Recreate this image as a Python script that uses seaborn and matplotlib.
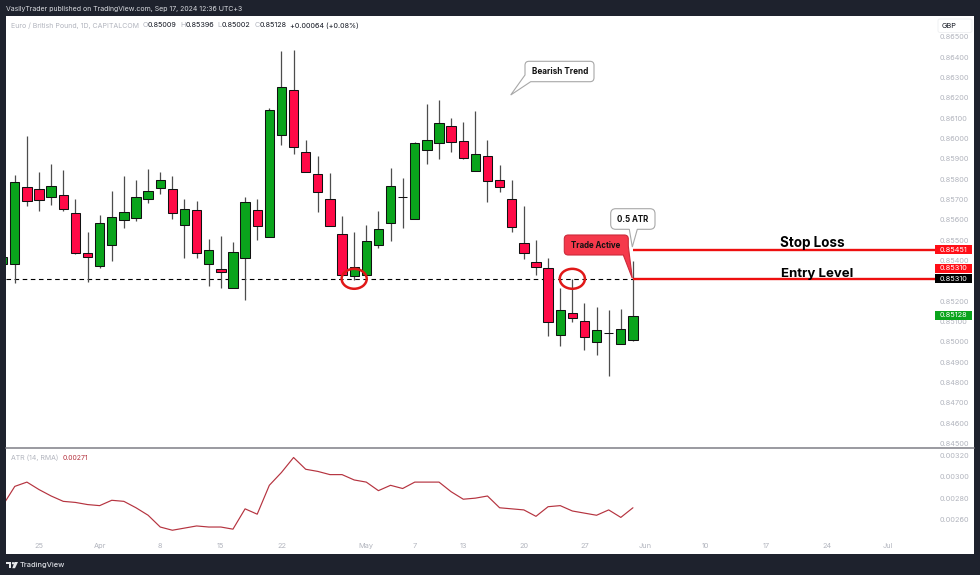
import numpy as np
import pandas as pd
import matplotlib
matplotlib.use("Agg")
import matplotlib.pyplot as plt
from matplotlib.path import Path
from matplotlib.patches import PathPatch, Ellipse, Rectangle, FancyBboxPatch
import seaborn as sns

# ---------- data ----------
day_index = list(range(-1, 52))
opens = [.85385, .85385, .85759, .85749, .85711, .85721, .85631, .85439, .85373, .85477, .85601, .85611,
         .85703, .85755, .85751, .85575, .85647, .85383, .85357, .85267, .85410, .85647, .85514, .86019,
         .86236, .85933, .85824, .85700, .85528, .85323, .85331, .85478, .85583, .85714, .85605, .85941,
         .85978, .86059, .85987, .85842, .85913, .85795, .85700, .85485, .85393, .85365, .85036, .85144,
         .85103, .85000, .85045, .84992, .85009]
closes = [.85418, .85787, .85692, .85695, .85765, .85651, .85439, .85418, .85582, .85615, .85636, .85710,
          .85741, .85798, .85631, .85655, .85436, .85454, .85344, .85444, .85688, .85570, .86141, .86255,
          .85957, .85833, .85737, .85570, .85331, .85370, .85495, .85557, .85765, .85712, .85975, .85990,
          .86078, .85980, .85903, .85921, .85791, .85760, .85564, .85436, .85369, .85100, .85158, .85116,
          .85026, .85060, .85043, .85064, .85128]
highs = [.85425, .85819, .86014, .85837, .85875, .85844, .85701, .85539, .85624, .85742, .85814, .85798,
         .85852, .85836, .85814, .85700, .85690, .85508, .85519, .85490, .85713, .85701, .86147, .86431,
         .86436, .85992, .85913, .85829, .85618, .85539, .85573, .85641, .85854, .85805, .85982, .86170,
         .86191, .86098, .86080, .86134, .85991, .85867, .85795, .85670, .85501, .85414, .85264, .85311,
         .85192, .85169, .85159, .85164, .85396]
lows = [.85375, .85290, .85669, .85644, .85672, .85644, .85433, .85295, .85362, .85398, .85562, .85595,
        .85682, .85729, .85603, .85414, .85411, .85275, .85264, .85267, .85205, .85503, .85514, .85970,
        .85923, .85833, .85637, .85570, .85331, .85303, .85331, .85459, .85498, .85562, .85605, .85875,
        .85901, .85932, .85898, .85842, .85687, .85737, .85539, .85406, .85328, .85029, .84980, .85100,
        .84959, .84936, .84831, .84992, .85002]
atr = [.00273, .00291, .00295, .00288, .00282, .00277, .00276, .00274, .00273, .00278, .00277, .00271,
       .00264, .00253, .00250, .00252, .00254, .00253, .00253, .00251, .00270, .00265, .00292, .00304,
       .00318, .00307, .00305, .00302, .00302, .00297, .00295, .00287, .00292, .00289, .00295, .00295,
       .00295, .00286, .00279, .00280, .00282, .00271, .00270, .00269, .00263, .00272, .00273, .00268,
       .00266, .00264, .00269, .00262, .00271]
price_ticks = [.845, .846, .847, .848, .849, .850, .851, .852, .854, .855, .856, .857,
               .858, .859, .860, .861, .862, .863, .864, .865]
atr_ticks = [.0026, .0028, .0030, .0032]
date_pos = [2, 7, 12, 17, 22, 29, 33, 37, 42, 47, 52, 57, 62, 67, 72]
date_labels = ["25", "Apr", "8", "15", "22", "May", "7", "13", "20", "27", "Jun", "10", "17", "24", "Jul"]
entry_level = 0.85310
stop_level = 0.85451
last_close = 0.85128
entry_touch_days = [28, 46]

# ---------- style ----------
sns.set_theme(style="white")
FONT = ["Inter", "DejaVu Sans"]
plt.rcParams["font.family"] = FONT
BG = "#1e222d"
GREEN, RED = "#0aa41c", "#ff0a47"
GREY = "#b2b5be"
W, H = 980, 575

fig = plt.figure(figsize=(W / 100, H / 100), dpi=100, facecolor=BG)

def panel(top, bottom):
    return fig.add_axes([6 / W, 1 - bottom / H, 968 / W, (bottom - top) / H], facecolor="white")

ax = panel(15.5, 448.3)
ax2 = panel(448.3, 554.3)
xlim = (-0.726, 79.14)

# ---------- candles ----------
df = pd.DataFrame(dict(i=day_index, o=opens, c=closes, h=highs, l=lows, atr=atr))
colors = [GREEN if c >= o else RED for o, c in zip(df.o, df.c)]
ax.vlines(df.i, df.l, df.h, color="#4d4d4d", lw=0.9, zorder=2)
ax.bar(df.i, (df.c - df.o).abs().clip(lower=0.00002), bottom=df[["o", "c"]].min(axis=1), width=0.77,
       color=colors, edgecolor="#111111", linewidth=0.75, zorder=3)
ax.hlines(entry_level, xlim[0], 51, color="black", lw=0.8, linestyles=(0, (4.1, 3.2)), zorder=1)
ax.hlines([stop_level, entry_level], 51, 76.7, color="#ee0f0f", lw=1.7, zorder=4)
for d in entry_touch_days:
    ax.add_patch(Ellipse((d, entry_level), 2.07, 0.00098, fill=False, ec="#e01818", lw=1.8, zorder=5))
ax.text(65.8, stop_level - 0.00000, "Stop Loss", fontsize=9.7, fontweight="bold", color="black",
        ha="center", va="bottom", zorder=6, fontfamily=FONT)
ax.text(66.2, entry_level - 0.00004, "Entry Level", fontsize=9.5, fontweight="bold", color="black",
        ha="center", va="bottom", zorder=6, fontfamily=FONT)

ax.set_xlim(*xlim)
ax.set_ylim(0.84477, 0.86604)
ax.set_yticks(price_ticks)
ax.set_yticklabels([f"{t:.5f}" for t in price_ticks])
ax.set_xticks([])

# ---------- ATR ----------
sns.lineplot(data=df, x="i", y="atr", ax=ax2, color="#b5333f", lw=0.85, errorbar=None)
ax2.set_xlim(*xlim)
ax2.set_ylim(0.002275, 0.003266)
ax2.set_yticks(atr_ticks)
ax2.set_yticklabels([f"{t:.5f}" for t in atr_ticks])
ax2.set_xticks(date_pos)
ax2.set_xticklabels(date_labels)
ax2.set_xlabel("")
ax2.set_ylabel("")

for a in (ax, ax2):
    a.yaxis.tick_right()
    a.tick_params(axis="y", length=0, pad=-24.6, labelsize=5.3, labelcolor=GREY)
    a.tick_params(axis="x", length=0, pad=-8.0, labelsize=5.3, labelcolor=GREY)
    for s in a.spines.values():
        s.set_visible(False)
ax2.spines["top"].set_visible(True)
ax2.spines["top"].set_color("#7f7f86")
ax2.spines["top"].set_linewidth(1.1)

# ---------- overlay in pixel space: header, legend, callouts, price tags ----------
ov = fig.add_axes([0, 0, 1, 1], facecolor="none")
ov.set_xlim(0, W)
ov.set_ylim(H, 0)
ov.axis("off")

def rounded(pts):
    verts, codes = [], []
    n = len(pts)
    for k, (x, y, r) in enumerate(pts):
        p = np.array([x, y], float)
        if r == 0:
            verts.append(p)
            codes.append(Path.LINETO)
            continue
        a = np.array(pts[k - 1][:2], float)
        b = np.array(pts[(k + 1) % n][:2], float)
        p1 = p + (a - p) / np.linalg.norm(a - p) * r
        p2 = p + (b - p) / np.linalg.norm(b - p) * r
        verts += [p1, p, p2]
        codes += [Path.LINETO, Path.CURVE3, Path.CURVE3]
    codes[0] = Path.MOVETO
    verts.append(verts[0])
    codes.append(Path.CLOSEPOLY)
    return Path(verts, codes)

def callout(pts, fc, ec, lw):
    ov.add_patch(PathPatch(rounded(pts), fc=fc, ec=ec, lw=lw, zorder=6))

callout([(525, 61.3, 4), (594, 61.3, 4), (594, 81.7, 4), (530.7, 81.7, 0), (510.7, 95, 0), (525, 75, 0)],
        "white", "#a8a8a8", 0.8)
ov.text(559.7, 71.5, "Bearish Trend", fontsize=5.9, fontweight="bold", color="#111111", ha="center", va="center", zorder=7)

callout([(610.7, 208.7, 5), (655, 208.7, 5), (655, 229.3, 5), (637.3, 229.3, 0), (632.3, 247, 0),
         (629.3, 229.3, 0), (610.7, 229.3, 5)], "white", "#a8a8a8", 0.8)
ov.text(632.8, 219, "0.5 ATR", fontsize=5.7, fontweight="bold", color="#111111", ha="center", va="center", zorder=7)

callout([(564.3, 235, 4), (628.3, 235, 4), (628.3, 246, 0), (632.3, 278.3, 0), (623.3, 255, 0), (564.3, 255, 4)],
        "#f5394b", "#cc2a3a", 0.8)
ov.text(596, 245, "Trade Active", fontsize=5.7, fontweight="bold", color="#111111", ha="center", va="center", zorder=7)

# price tags
for yc, txt, col in [(249.7, f"{stop_level:.5f}", "#ff0f17"), (268.5, f"{entry_level:.5f}", "#ff0f17"),
                     (278.7, f"{entry_level:.5f}", "#000000"), (315.4, f"{last_close:.5f}", "#0aa41c")]:
    ov.add_patch(Rectangle((935, yc - 4.7), 37, 9.4, fc=col, ec="none", zorder=6))
    ov.text(953.5, yc, txt, fontsize=5.3, color="white", ha="center", va="center", zorder=7)

# currency box
ov.add_patch(FancyBboxPatch((938, 19), 34, 13.5, boxstyle="round,pad=0,rounding_size=2", fc="white", ec="#f0f1f3", lw=0.7, zorder=6))
ov.text(942, 25.7, "GBP", fontsize=5.3, color="#131722", ha="left", va="center", zorder=7)

# top strip
ov.text(6, 9.3, "VasilyTrader published on TradingView.com, Sep 17, 2024 12:36 UTC+3", fontsize=5.0, color="#d9dbe0", ha="left", va="center")

# legend row
ov.text(10.6, 25.3, "Euro / British Pound, 1D, CAPITALCOM", fontsize=5.05, color=GREY, ha="left", va="center")
for x, t, c in [(142.5, "O", GREY), (147.6, "0.85009", "#131722"), (180, "H", GREY), (185.2, "0.85396", "#131722"),
                (217.5, "L", GREY), (221.6, "0.85002", "#131722"), (254.3, "C", GREY), (259.3, "0.85128", "#131722"),
                (290, "+0.00064 (+0.08%)", "#131722")]:
    ov.text(x, 25.3, t, fontsize=5.2, color=c, ha="left", va="center")
ov.text(10.7, 457.8, "ATR (14, RMA)", fontsize=5.0, color=GREY, ha="left", va="center")
ov.text(63, 457.8, f"{atr[-1]:.5f}", fontsize=5.0, color="#b5333f", ha="left", va="center")

# footer
ov.add_patch(Rectangle((6, 562), 5.2, 2.2, fc="#e8e9ec", ec="none"))
ov.add_patch(Rectangle((8.5, 562), 2.7, 6.2, fc="#e8e9ec", ec="none"))
ov.add_patch(Ellipse((13, 563.2), 2.3, 2.3, fc="#e8e9ec", ec="none"))
ov.add_patch(PathPatch(Path([(14.5, 562), (18, 562), (15, 568.2), (12.3, 568.2), (14.5, 562)]), fc="#e8e9ec", ec="none"))
ov.text(19.5, 565, "TradingView", fontsize=5.4, fontweight="medium", color="#d9dbe0", ha="left", va="center")

fig.savefig("out.png", dpi=100, facecolor=BG)
